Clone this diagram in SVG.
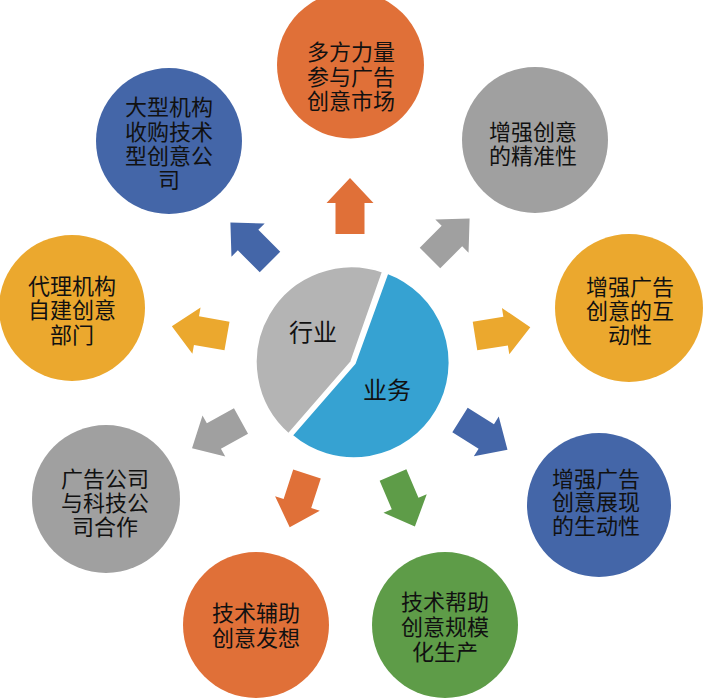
<svg xmlns="http://www.w3.org/2000/svg" width="704" height="700" viewBox="0 0 704 700">
<style>
text{font-family:"Noto Sans CJK SC","Noto Sans",sans-serif;fill:#111;text-anchor:middle;dominant-baseline:central}
.t{font-size:22px}
.p{font-size:24px}
.orange{fill:#E07038}
.gray{fill:#A0A0A0}
.blue{fill:#4466A8}
.yellow{fill:#EBA82E}
.green{fill:#5E9C48}
</style>
<defs>
<path id="arr" d="M0,-14.5 L31,-14.5 L31,-23.5 L56,0 L31,23.5 L31,14.5 L0,14.5 Z"/>
</defs>
<rect width="704" height="700" fill="#fff"/>
<g id="connectors">
<use href="#arr" class="orange" transform="translate(350,234) rotate(-90)"/>
<use href="#arr" class="gray" transform="translate(430,258) rotate(-45)"/>
<use href="#arr" class="yellow" transform="translate(475,336) rotate(-9)"/>
<use href="#arr" class="blue" transform="translate(460,420) rotate(32)"/>
<use href="#arr" class="green" transform="translate(393,475) rotate(67)"/>
<use href="#arr" class="orange" transform="translate(307,474) rotate(108)"/>
<use href="#arr" class="gray" transform="translate(241,421) rotate(151)"/>
<use href="#arr" class="yellow" transform="translate(227,336) rotate(190)"/>
<use href="#arr" class="blue" transform="translate(270,262) rotate(-135)"/>
</g>
<g id="center">
<path d="M351.5,362 L383.3,271.5 A96,96 0 0 0 288.5,434.5 Z" fill="#B4B4B4" stroke="#fff" stroke-width="2.5"/>
<path d="M354.5,363 L387.3,272.5 A96,96 0 1 1 291.5,435.5 Z" fill="#36A2D2" stroke="#fff" stroke-width="2.5"/>
<text class="p" x="313" y="330">行业</text>
<text class="p" x="387" y="388">业务</text>
</g>
<g id="n1">
<circle class="orange" cx="350.5" cy="65" r="73.5"/>
<text class="t"><tspan x="351" y="50">多方力量</tspan><tspan x="351" y="75">参与广告</tspan><tspan x="351" y="99">创意市场</tspan></text>
</g>
<g id="n2">
<circle class="gray" cx="535" cy="140" r="73"/>
<text class="t"><tspan x="533" y="130">增强创意</tspan><tspan x="533" y="154">的精准性</tspan></text>
</g>
<g id="n3">
<circle class="yellow" cx="629" cy="308" r="74"/>
<text class="t"><tspan x="630" y="285">增强广告</tspan><tspan x="630" y="309">创意的互</tspan><tspan x="630" y="333">动性</tspan></text>
</g>
<g id="n4">
<circle class="blue" cx="599" cy="505" r="72"/>
<text class="t"><tspan x="596" y="477">增强广告</tspan><tspan x="596" y="500">创意展现</tspan><tspan x="596" y="524">的生动性</tspan></text>
</g>
<g id="n5">
<circle class="green" cx="445" cy="625" r="73"/>
<text class="t"><tspan x="445" y="600">技术帮助</tspan><tspan x="445" y="625">创意规模</tspan><tspan x="445" y="650">化生产</tspan></text>
</g>
<g id="n6">
<circle class="orange" cx="256" cy="625" r="73"/>
<text class="t"><tspan x="256" y="611">技术辅助</tspan><tspan x="256" y="636">创意发想</tspan></text>
</g>
<g id="n7">
<circle class="gray" cx="106" cy="499" r="74"/>
<text class="t"><tspan x="105" y="477">广告公司</tspan><tspan x="105" y="501">与科技公</tspan><tspan x="105" y="525">司合作</tspan></text>
</g>
<g id="n8">
<circle class="yellow" cx="72" cy="308" r="73"/>
<text class="t"><tspan x="72" y="284">代理机构</tspan><tspan x="72" y="308">自建创意</tspan><tspan x="72" y="333">部门</tspan></text>
</g>
<g id="n9">
<circle class="blue" cx="169" cy="141" r="73"/>
<text class="t"><tspan x="169" y="105">大型机构</tspan><tspan x="169" y="130">收购技术</tspan><tspan x="169" y="154">型创意公</tspan><tspan x="169" y="178">司</tspan></text>
</g>
</svg>
